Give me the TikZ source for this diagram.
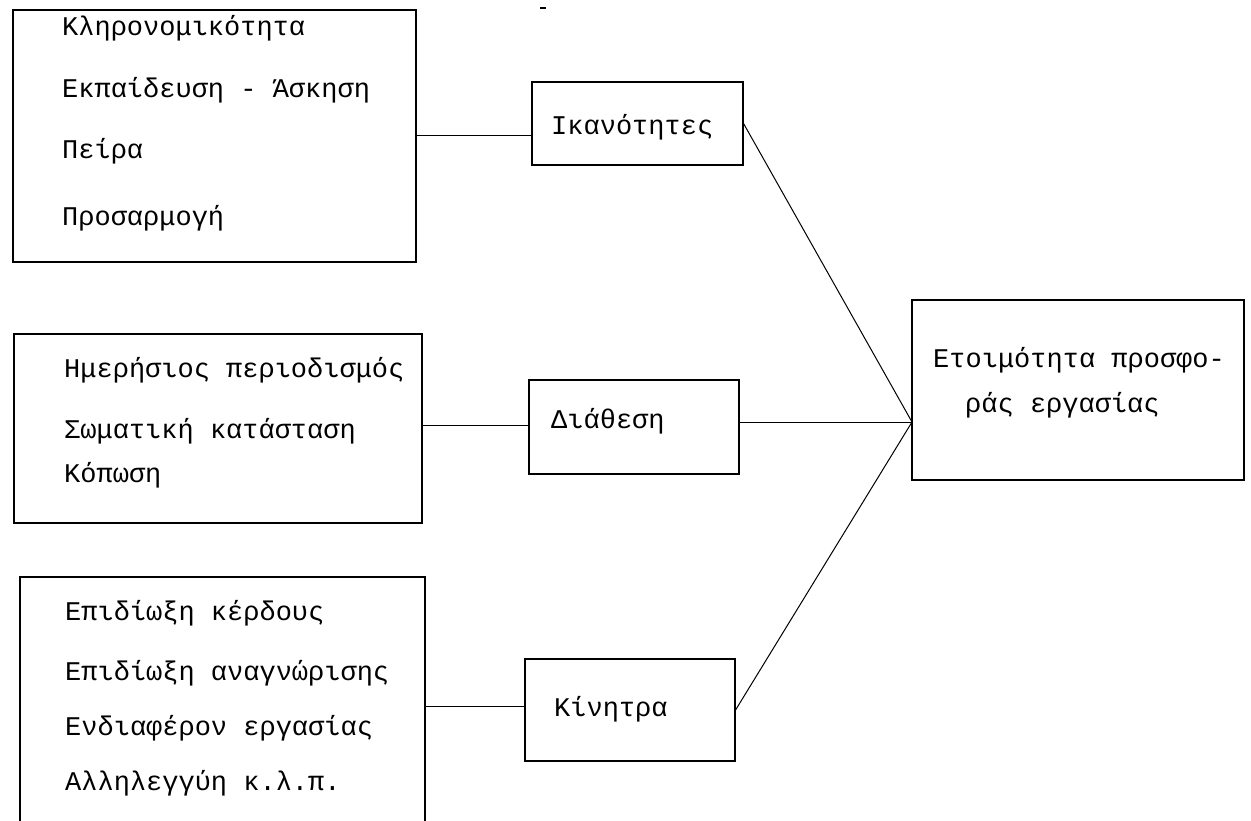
\documentclass[tikz,border=0pt]{standalone}
\usepackage{fontspec}
\setmainfont{Liberation Mono}
\begin{document}
\begin{tikzpicture}[x=1pt,y=-1pt,
  box/.style={draw, line width=1.1pt, inner sep=0pt},
  txt/.style={anchor=base west, inner sep=0pt, font=\fontsize{27}{30}\selectfont},
  conn/.style={line width=1pt}]
\useasboundingbox (0,0) rectangle (1251,820);
\clip (0,0) rectangle (1251,820);
% boxes
\node[box, minimum width=403pt, minimum height=252pt] (b1) at (214.5,136) {};
\node[box, minimum width=408pt, minimum height=189pt] (b2) at (218,428.5) {};
\node[box, minimum width=405pt, minimum height=258pt] (b3) at (222.5,706) {};
\node[box, minimum width=211pt, minimum height=83pt] (ikan) at (637.5,123.5) {};
\node[box, minimum width=210pt, minimum height=94pt] (diath) at (634,427) {};
\node[box, minimum width=210pt, minimum height=102pt] (kin) at (630,710) {};
\node[box, minimum width=332pt, minimum height=180pt] (etoim) at (1078,390) {};
% texts
\node[txt] (t11) at (62,35) {Κληρονομικότητα};
\node[txt] (t12) at (62,97) {Εκπαίδευση - Άσκηση};
\node[txt] (t13) at (62,158) {Πείρα};
\node[txt] (t14) at (62,225) {Προσαρμογή};
\node[txt] (t21) at (64,377) {Ημερήσιος περιοδισμός};
\node[txt] (t22) at (64,438) {Σωματική κατάσταση};
\node[txt] (t23) at (64,482) {Κόπωση};
\node[txt] (t31) at (65,620) {Επιδίωξη κέρδους};
\node[txt] (t32) at (65,680) {Επιδίωξη αναγνώρισης};
\node[txt] (t33) at (65,735) {Ενδιαφέρον εργασίας};
\node[txt] (t34) at (65,790) {Αλληλεγγύη κ.λ.π.};
\node[txt] (tik) at (551,134) {Ικανότητες};
\node[txt] (tdi) at (551,428) {Διάθεση};
\node[txt] (tki) at (554,716) {Κίνητρα};
\node[txt] (te1) at (933,367) {Ετοιμότητα προσφο-};
\node[txt] (te2) at (965,412) {ράς εργασίας};
% connectors
\coordinate (conv) at (912,422);
\draw[conn] (b1.east |- 0,135) -- (ikan.west |- 0,135);
\draw[conn] (b2.east |- 0,425) -- (diath.west |- 0,425);
\draw[conn] (b3.east) -- (kin.west |- b3.east);
\draw[conn] (ikan.east) -- (conv);
\draw[conn] (diath.east |- conv) -- (conv);
\draw[conn] (kin.east) -- (conv);
% small mark at top
\draw[line width=1.2pt] (540,8) -- (546,8);
\end{tikzpicture}
\end{document}
